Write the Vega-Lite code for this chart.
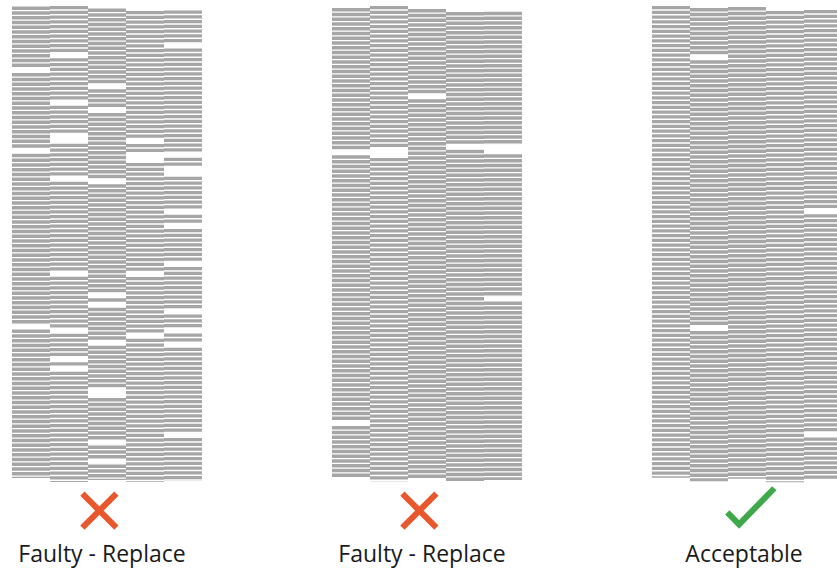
{
  "$schema": "https://vega.github.io/schema/vega-lite/v6.json",
  "padding": {"left": 12, "top": 0, "right": 0, "bottom": 0},
  "autosize": {"type": "pad"},
  "spacing": 130,
  "background": "white",
  "config": {"view": {"stroke": null}},
  "resolve": {"scale": {"x": "independent", "y": "independent", "shape": "independent", "color": "independent", "size": "independent"}},
  "datasets": {
    "cols": [
      {"panel": 1, "col": 1, "top": 1.392, "bottom": 100.63},
      {"panel": 1, "col": 2, "top": 1.242, "bottom": 101.47},
      {"panel": 1, "col": 3, "top": 1.792, "bottom": 101.05},
      {"panel": 1, "col": 4, "top": 2.292, "bottom": 101.47},
      {"panel": 1, "col": 5, "top": 2.192, "bottom": 101.26},
      {"panel": 2, "col": 1, "top": 1.692, "bottom": 100.6},
      {"panel": 2, "col": 2, "top": 1.242, "bottom": 101.3},
      {"panel": 2, "col": 3, "top": 1.892, "bottom": 100.8},
      {"panel": 2, "col": 4, "top": 2.542, "bottom": 101.5},
      {"panel": 2, "col": 5, "top": 2.492, "bottom": 101.05},
      {"panel": 3, "col": 1, "top": 1.242, "bottom": 100.6},
      {"panel": 3, "col": 2, "top": 1.692, "bottom": 101.3},
      {"panel": 3, "col": 3, "top": 1.492, "bottom": 100.8},
      {"panel": 3, "col": 4, "top": 2.292, "bottom": 101.5},
      {"panel": 3, "col": 5, "top": 2.092, "bottom": 101.05}
    ],
    "gaps": [
      {"panel": 1, "col": 1, "line": 14.75},
      {"panel": 1, "col": 1, "line": 31.75},
      {"panel": 1, "col": 1, "line": 68.75},
      {"panel": 1, "col": 2, "line": 11.6},
      {"panel": 1, "col": 2, "line": 21.6},
      {"panel": 1, "col": 2, "line": 28.6},
      {"panel": 1, "col": 2, "line": 29.6},
      {"panel": 1, "col": 2, "line": 37.6},
      {"panel": 1, "col": 2, "line": 57.6},
      {"panel": 1, "col": 2, "line": 69.6},
      {"panel": 1, "col": 2, "line": 75.6},
      {"panel": 1, "col": 2, "line": 77.6},
      {"panel": 1, "col": 3, "line": 18.15},
      {"panel": 1, "col": 3, "line": 23.15},
      {"panel": 1, "col": 3, "line": 38.15},
      {"panel": 1, "col": 3, "line": 62.15},
      {"panel": 1, "col": 3, "line": 64.15},
      {"panel": 1, "col": 3, "line": 72.15},
      {"panel": 1, "col": 3, "line": 82.15},
      {"panel": 1, "col": 3, "line": 83.15},
      {"panel": 1, "col": 3, "line": 93.15},
      {"panel": 1, "col": 3, "line": 97.15},
      {"panel": 1, "col": 4, "line": 29.65},
      {"panel": 1, "col": 4, "line": 32.65},
      {"panel": 1, "col": 4, "line": 33.65},
      {"panel": 1, "col": 4, "line": 57.65},
      {"panel": 1, "col": 4, "line": 70.65},
      {"panel": 1, "col": 5, "line": 9.55},
      {"panel": 1, "col": 5, "line": 32.55},
      {"panel": 1, "col": 5, "line": 35.55},
      {"panel": 1, "col": 5, "line": 36.55},
      {"panel": 1, "col": 5, "line": 44.55},
      {"panel": 1, "col": 5, "line": 47.55},
      {"panel": 1, "col": 5, "line": 55.55},
      {"panel": 1, "col": 5, "line": 65.55},
      {"panel": 1, "col": 5, "line": 69.55},
      {"panel": 1, "col": 5, "line": 72.55},
      {"panel": 1, "col": 5, "line": 91.55},
      {"panel": 2, "col": 3, "line": 20.25},
      {"panel": 2, "col": 1, "line": 32.05},
      {"panel": 2, "col": 1, "line": 89.05},
      {"panel": 2, "col": 2, "line": 31.6},
      {"panel": 2, "col": 2, "line": 32.6},
      {"panel": 2, "col": 4, "line": 30.9},
      {"panel": 2, "col": 5, "line": 30.85},
      {"panel": 2, "col": 5, "line": 31.85},
      {"panel": 2, "col": 5, "line": 62.85},
      {"panel": 3, "col": 2, "line": 12.05},
      {"panel": 3, "col": 2, "line": 69.05},
      {"panel": 3, "col": 5, "line": 44.45},
      {"panel": 3, "col": 5, "line": 91.45}
    ],
    "verdicts": [
      {"panel": 1, "verdict": "Faulty", "label": "Faulty - Replace"},
      {"panel": 2, "verdict": "Faulty", "label": "Faulty - Replace"},
      {"panel": 3, "verdict": "OK", "label": "Acceptable"}
    ]
  },
  "hconcat": [
    {
      "width": 190, "height": 570,
      "layer": [
        {"data": {"name": "cols"}, "transform": [{"filter": "datum.panel == 1"}],
         "mark": {"type": "rule", "clip": true, "strokeWidth": 38, "strokeDash": [3.4, 1.35], "color": "#a6a6a6", "strokeCap": "butt"},
         "encoding": {
           "x": {"field": "col", "type": "quantitative", "scale": {"domain": [0.5, 5.5], "nice": false, "zero": false}, "axis": null},
           "y": {"field": "top", "type": "quantitative", "scale": {"domain": [0, 120], "reverse": true, "nice": false, "zero": false}, "axis": null},
           "y2": {"field": "bottom"}}},
        {"data": {"name": "gaps"}, "transform": [{"filter": "datum.panel == 1"}],
         "mark": {"type": "tick", "clip": true, "orient": "horizontal", "size": 38, "thickness": 4.75, "color": "white", "opacity": 1},
         "encoding": {
           "x": {"field": "col", "type": "quantitative"},
           "y": {"field": "line", "type": "quantitative"}}},
        {"data": {"name": "verdicts"}, "transform": [{"filter": "datum.panel == 1"}],
         "mark": {"type": "point", "filled": false, "strokeWidth": 6, "opacity": 1, "strokeCap": "butt"},
         "encoding": {
           "x": {"datum": 2.8},
           "y": {"datum": 107.5},
           "shape": {"field": "verdict", "type": "nominal", "scale": {"domain": ["Faulty", "OK"], "range": ["M-1,-1L1,1M1,-1L-1,1", "M-1,0.26L-0.5,0.77L1,-0.77"]}, "legend": null},
           "color": {"field": "verdict", "type": "nominal", "scale": {"domain": ["Faulty", "OK"], "range": ["#e8582c", "#3fa84b"]}, "legend": null},
           "size": {"field": "verdict", "type": "nominal", "scale": {"domain": ["Faulty", "OK"], "range": [1156, 2209]}, "legend": null}}},
        {"data": {"name": "verdicts"}, "transform": [{"filter": "datum.panel == 1"}],
         "mark": {"type": "text", "font": "Open Sans", "fontSize": 23, "color": "#1a1a1a", "baseline": "alphabetic", "align": "center", "dx": -5},
         "encoding": {"x": {"datum": 3}, "y": {"datum": 118.3}, "text": {"field": "label"}}}
      ]
    },
    {
      "width": 190, "height": 570,
      "layer": [
        {"data": {"name": "cols"}, "transform": [{"filter": "datum.panel == 2"}],
         "mark": {"type": "rule", "clip": true, "strokeWidth": 38, "strokeDash": [3.4, 1.35], "color": "#a6a6a6", "strokeCap": "butt"},
         "encoding": {
           "x": {"field": "col", "type": "quantitative", "scale": {"domain": [0.5, 5.5], "nice": false, "zero": false}, "axis": null},
           "y": {"field": "top", "type": "quantitative", "scale": {"domain": [0, 120], "reverse": true, "nice": false, "zero": false}, "axis": null},
           "y2": {"field": "bottom"}}},
        {"data": {"name": "gaps"}, "transform": [{"filter": "datum.panel == 2"}],
         "mark": {"type": "tick", "clip": true, "orient": "horizontal", "size": 38, "thickness": 4.75, "color": "white", "opacity": 1},
         "encoding": {
           "x": {"field": "col", "type": "quantitative"},
           "y": {"field": "line", "type": "quantitative"}}},
        {"data": {"name": "verdicts"}, "transform": [{"filter": "datum.panel == 2"}],
         "mark": {"type": "point", "filled": false, "strokeWidth": 6, "opacity": 1, "strokeCap": "butt"},
         "encoding": {
           "x": {"datum": 2.8},
           "y": {"datum": 107.5},
           "shape": {"field": "verdict", "type": "nominal", "scale": {"domain": ["Faulty", "OK"], "range": ["M-1,-1L1,1M1,-1L-1,1", "M-1,0.26L-0.5,0.77L1,-0.77"]}, "legend": null},
           "color": {"field": "verdict", "type": "nominal", "scale": {"domain": ["Faulty", "OK"], "range": ["#e8582c", "#3fa84b"]}, "legend": null},
           "size": {"field": "verdict", "type": "nominal", "scale": {"domain": ["Faulty", "OK"], "range": [1156, 2209]}, "legend": null}}},
        {"data": {"name": "verdicts"}, "transform": [{"filter": "datum.panel == 2"}],
         "mark": {"type": "text", "font": "Open Sans", "fontSize": 23, "color": "#1a1a1a", "baseline": "alphabetic", "align": "center", "dx": -5},
         "encoding": {"x": {"datum": 3}, "y": {"datum": 118.3}, "text": {"field": "label"}}}
      ]
    },
    {
      "width": 185, "height": 570,
      "layer": [
        {"data": {"name": "cols"}, "transform": [{"filter": "datum.panel == 3"}],
         "mark": {"type": "rule", "clip": true, "strokeWidth": 38, "strokeDash": [3.4, 1.35], "color": "#a6a6a6", "strokeCap": "butt"},
         "encoding": {
           "x": {"field": "col", "type": "quantitative", "scale": {"domain": [0.5, 5.368], "nice": false, "zero": false}, "axis": null},
           "y": {"field": "top", "type": "quantitative", "scale": {"domain": [0, 120], "reverse": true, "nice": false, "zero": false}, "axis": null},
           "y2": {"field": "bottom"}}},
        {"data": {"name": "gaps"}, "transform": [{"filter": "datum.panel == 3"}],
         "mark": {"type": "tick", "clip": true, "orient": "horizontal", "size": 38, "thickness": 4.75, "color": "white", "opacity": 1},
         "encoding": {
           "x": {"field": "col", "type": "quantitative"},
           "y": {"field": "line", "type": "quantitative"}}},
        {"data": {"name": "verdicts"}, "transform": [{"filter": "datum.panel == 3"}],
         "mark": {"type": "point", "filled": false, "strokeWidth": 6, "opacity": 1, "strokeCap": "butt"},
         "encoding": {
           "x": {"datum": 3.1},
           "y": {"datum": 106.6},
           "shape": {"field": "verdict", "type": "nominal", "scale": {"domain": ["Faulty", "OK"], "range": ["M-1,-1L1,1M1,-1L-1,1", "M-1,0.26L-0.5,0.77L1,-0.77"]}, "legend": null},
           "color": {"field": "verdict", "type": "nominal", "scale": {"domain": ["Faulty", "OK"], "range": ["#e8582c", "#3fa84b"]}, "legend": null},
           "size": {"field": "verdict", "type": "nominal", "scale": {"domain": ["Faulty", "OK"], "range": [1156, 2209]}, "legend": null}}},
        {"data": {"name": "verdicts"}, "transform": [{"filter": "datum.panel == 3"}],
         "mark": {"type": "text", "font": "Open Sans", "fontSize": 23, "color": "#1a1a1a", "baseline": "alphabetic", "align": "center", "dx": -3},
         "encoding": {"x": {"datum": 3}, "y": {"datum": 118.3}, "text": {"field": "label"}}}
      ]
    }
  ]
}
